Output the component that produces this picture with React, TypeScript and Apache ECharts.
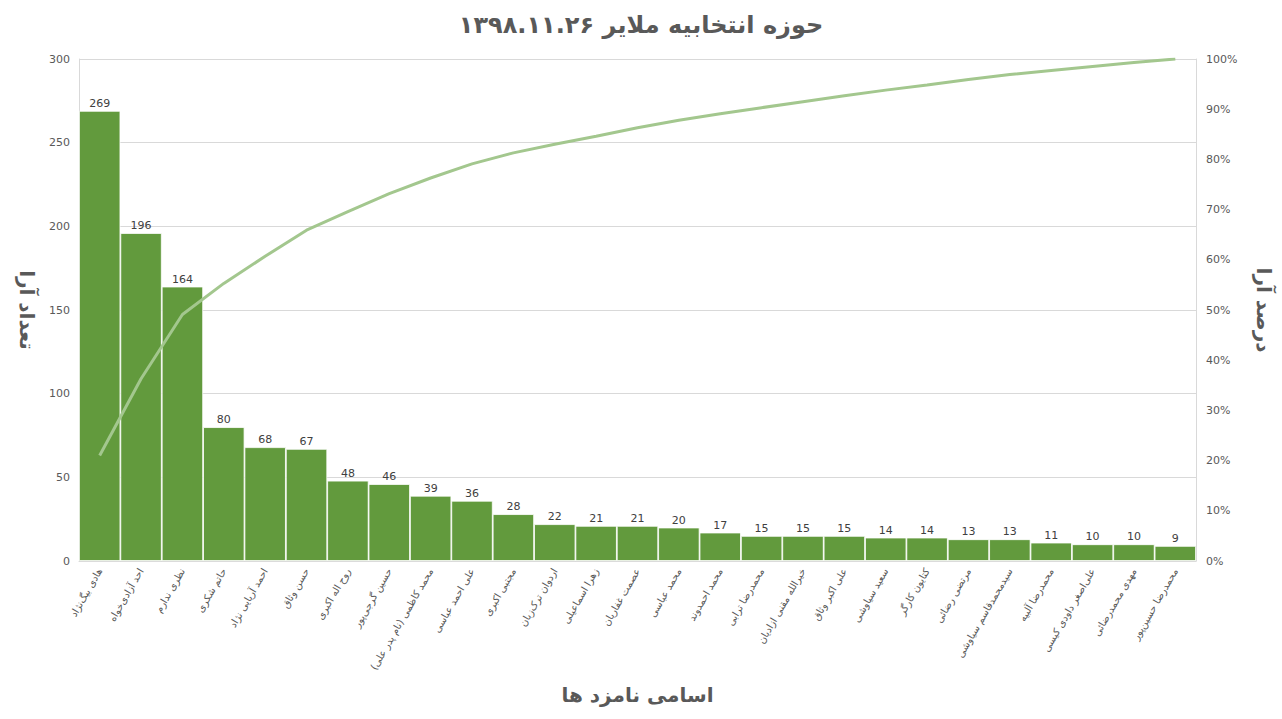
import React, { useEffect, useRef } from "react";
import * as echarts from "echarts";

const categories = [
  "هادی بیگ‌نژاد",
  "احد آزادی‌خواه",
  "نظری ندارم",
  "حاتم شکری",
  "احمد آریایی نژاد",
  "حسن وثاق",
  "روح اله اکبری",
  "حسین گرجی‌پور",
  "محمد کاظمی (نام پدر علی)",
  "علی احمد عباسی",
  "مجتبی اکبری",
  "اردوان ترک‌زبان",
  "زهرا اسماعیلی",
  "عصمت غفاریان",
  "محمد عباسی",
  "محمد احمدوند",
  "محمدرضا ترابی",
  "خیرالله مقنی ازادیان",
  "علی اکبر وثاق",
  "سعید سیاوشی",
  "کتایون کارگر",
  "مرتضی رضائی",
  "سیدمحمدقاسم سیاوشی",
  "محمدرضا آلبیه",
  "علی‌اصغر داودی کیسی",
  "مهدی محمدرضائی",
  "محمدرضا حسین‌پور",
];

const votes = [269, 196, 164, 80, 68, 67, 48, 46, 39, 36, 28, 22, 21, 21, 20, 17, 15, 15, 15, 14, 14, 13, 13, 11, 10, 10, 9];

const cumulativePercent = [
  21.0, 36.3, 49.1, 55.3, 60.7, 65.9, 69.6, 73.2, 76.3, 79.1, 81.3, 83.0, 84.6, 86.3,
  87.8, 89.1, 90.3, 91.5, 92.7, 93.8, 94.8, 95.9, 96.9, 97.7, 98.5, 99.3, 100,
];

const TITLE = "حوزه انتخابیه ملایر ۱۳۹۸.۱۱.۲۶";
const LEFT_NAME = "تعداد آرا";
const RIGHT_NAME = "درصد آرا";
const X_NAME = "اسامی نامزد ها";

const FONT = "DejaVu Sans";

export default function App() {
  const ref = useRef<HTMLDivElement>(null);
  useEffect(() => {
    if (!ref.current) return;
    const chart = echarts.init(ref.current, null, { renderer: "svg" });
    chart.setOption({
      animation: false,
      backgroundColor: "#ffffff",
      title: {
        text: TITLE,
        left: "center",
        top: 8,
        textStyle: { fontFamily: FONT, fontSize: 24, fontWeight: "bold", color: "#595959" },
      },
      grid: { left: 79, right: 79, top: 59, bottom: 158, containLabel: false },
      xAxis: {
        type: "category",
        data: categories,
        name: X_NAME,
        nameLocation: "middle",
        nameGap: 124,
        nameTextStyle: { fontFamily: FONT, fontSize: 20, fontWeight: "bold", color: "#595959" },
        axisTick: { show: false },
        axisLine: { show: true, lineStyle: { color: "#d9d9d9" } },
        axisLabel: {
          interval: 0,
          rotate: 60,
          fontFamily: FONT,
          fontSize: 10,
          color: "#595959",
          margin: 8,
        },
      },
      yAxis: [
        {
          type: "value",
          min: 0,
          max: 300,
          interval: 50,
          name: LEFT_NAME,
          nameLocation: "middle",
          nameRotate: 270,
          nameGap: 42,
          nameTextStyle: { fontFamily: FONT, fontSize: 20, fontWeight: "bold", color: "#595959" },
          axisLine: { show: true, lineStyle: { color: "#d9d9d9" } },
          axisTick: { show: false },
          splitLine: { lineStyle: { color: "#d9d9d9" } },
          axisLabel: { fontFamily: FONT, fontSize: 11, color: "#595959", margin: 9 },
        },
        {
          type: "value",
          min: 0,
          max: 100,
          interval: 10,
          name: RIGHT_NAME,
          nameLocation: "middle",
          nameRotate: 270,
          nameGap: 58,
          nameTextStyle: { fontFamily: FONT, fontSize: 20, fontWeight: "bold", color: "#595959" },
          axisLine: { show: true, lineStyle: { color: "#d9d9d9" } },
          axisTick: { show: false },
          splitLine: { show: false },
          axisLabel: { fontFamily: FONT, fontSize: 11, color: "#595959", margin: 10, formatter: "{value}%" },
        },
      ],
      series: [
        {
          type: "bar",
          data: votes,
          barCategoryGap: "0%",
          itemStyle: { color: "#629a3d", borderColor: "#ffffff", borderWidth: 0.8 },
          label: {
            show: true,
            position: "top",
            distance: 2,
            fontFamily: FONT,
            fontSize: 11,
            color: "#404040",
          },
        },
        {
          type: "line",
          yAxisIndex: 1,
          data: cumulativePercent,
          symbol: "none",
          lineStyle: { color: "#a3c78e", width: 3 },
        },
      ],
    });
    return () => chart.dispose();
  }, []);
  return (
    <div
      ref={ref}
      style={{ position: "fixed", left: 0, top: 0, width: 1282, height: 719, background: "#ffffff" }}
    />
  );
}
